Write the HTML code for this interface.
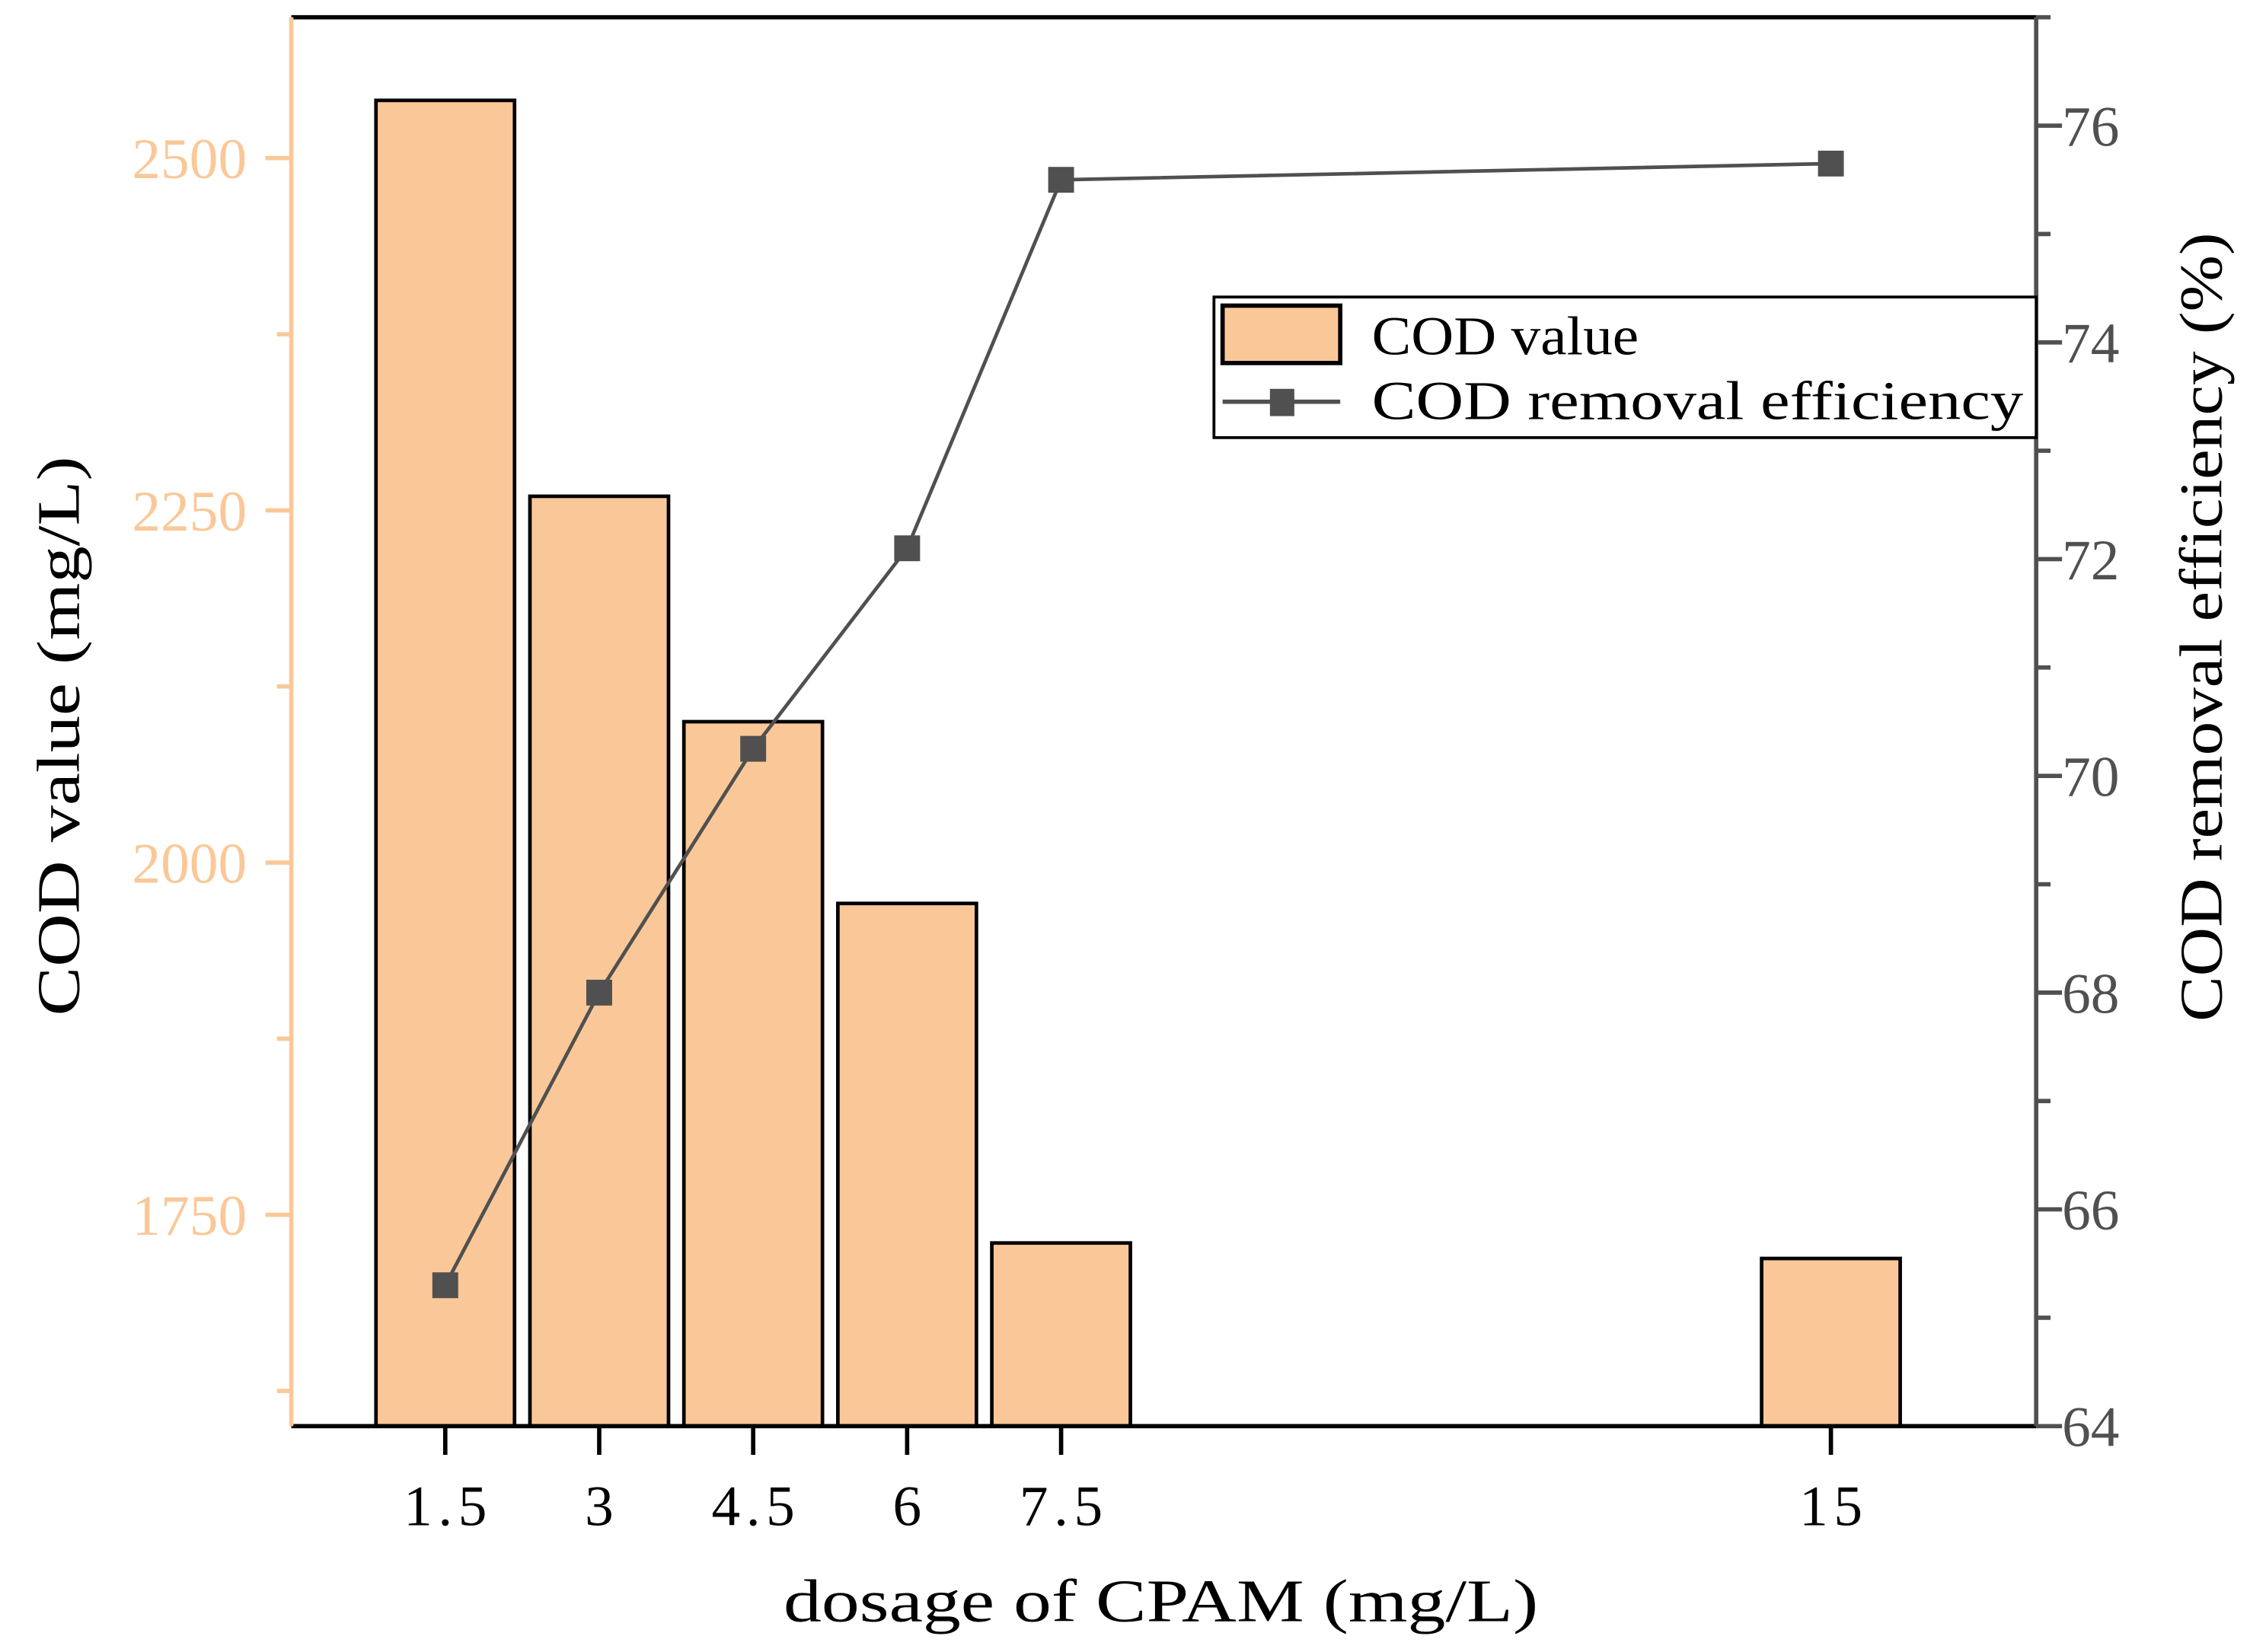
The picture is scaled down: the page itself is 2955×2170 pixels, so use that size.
<!DOCTYPE html>
<html><head><meta charset="utf-8"><style>html,body{margin:0;padding:0;background:#fff}svg{display:block}</style></head>
<body>
<svg id="chart" xmlns="http://www.w3.org/2000/svg" width="2955" height="2170" viewBox="0 0 1568 1151.4" font-family="'Liberation Serif', serif">
<g id="g"></g>
</svg>
<script>
const categories = [1.5, 3, 4.5, 6, 7.5, 15];
const codValues = [2541, 2260, 2100, 1971, 1730, 1719];
const removalEff = [65.3, 68.0, 70.25, 72.1, 75.5, 75.65];
const xTicks = ["1.5", "3", "4.5", "6", "7.5", "15"];
const leftTicks = [1750, 2000, 2250, 2500];
const leftMinor = [1625, 1875, 2125, 2375];
const rightTicks = [64, 66, 68, 70, 72, 74, 76];
const rightMinor = [65, 67, 69, 71, 73, 75, 77];

const PL = 203, PR = 1419, PT = 12, PB = 994;
const xs = v => PL + (v / 17) * (PR - PL);
const yl = v => PB - (v - 1600) / 1000 * (PB - PT);
const yr = v => PB - (v - 64) / 13 * (PB - PT);
const NS = 'http://www.w3.org/2000/svg';
const grp = document.getElementById('g');
function mk(tag, at, txt) {
  const e = document.createElementNS(NS, tag);
  for (const k in at) e.setAttribute(k, at[k]);
  if (txt !== undefined) e.textContent = txt;
  grp.appendChild(e);
  return e;
}
const orange = '#FAC898', gray = '#505050';
const bw = 1.35;
categories.forEach((c, i) => {
  const x0 = xs(c - bw / 2), x1 = xs(c + bw / 2);
  const b = mk('rect', {x: x0, y: yl(codValues[i]), width: x1 - x0, height: PB - yl(codValues[i]), fill: orange, stroke: '#000', 'stroke-width': 2.5});
  
  
});
const pts = categories.map((c, i) => xs(c) + ',' + yr(removalEff[i])).join(' ');
const pl = mk('polyline', {points: pts, fill: 'none', stroke: gray, 'stroke-width': 2.5});


categories.forEach((c, i) => {
  const m = mk('rect', {x: xs(c) - 9, y: yr(removalEff[i]) - 9, width: 18, height: 18, fill: gray});
  
  
});
const topBorder = mk('line', {x1: PL, y1: PT, x2: PR, y2: PT, stroke: '#000', 'stroke-width': 3});


const xa = mk('line', {x1: PL, y1: PB, x2: PR, y2: PB, stroke: '#000', 'stroke-width': 3});


const la = mk('line', {x1: PL, y1: PT, x2: PL, y2: PB, stroke: orange, 'stroke-width': 3});


const ra = mk('line', {x1: PR, y1: PT, x2: PR, y2: PB, stroke: gray, 'stroke-width': 3});


categories.forEach((c, i) => {
  mk('line', {x1: xs(c), y1: PB, x2: xs(c), y2: PB + 20, stroke: '#000', 'stroke-width': 3});
  const t = mk('text', {x: xs(c) + 2, y: 1063, 'text-anchor': 'middle', 'font-size': 40, fill: '#000', 'letter-spacing': 4}, xTicks[i]);
  
  
});
leftTicks.forEach(v => {
  mk('line', {x1: PL, y1: yl(v), x2: PL - 18, y2: yl(v), stroke: orange, 'stroke-width': 3});
  const t = mk('text', {x: 172, y: yl(v) + 14, 'text-anchor': 'end', 'font-size': 40, fill: orange}, String(v));
  
  
});
leftMinor.forEach(v => mk('line', {x1: PL, y1: yl(v), x2: PL - 10, y2: yl(v), stroke: orange, 'stroke-width': 3}));
rightTicks.forEach(v => {
  mk('line', {x1: PR, y1: yr(v), x2: PR + 18, y2: yr(v), stroke: gray, 'stroke-width': 3});
  const t = mk('text', {x: 1437, y: yr(v) + 14, 'font-size': 40, fill: gray}, String(v));
  
  
});
rightMinor.forEach(v => mk('line', {x1: PR, y1: yr(v), x2: PR + 10, y2: yr(v), stroke: gray, 'stroke-width': 3}));
const xt = mk('text', {x: 546, y: 1130, 'font-size': 42, textLength: 526, lengthAdjust: 'spacingAndGlyphs'}, 'dosage of CPAM (mg/L)');


const ylt = mk('text', {x: 0, y: 0, 'font-size': 42, textLength: 390, lengthAdjust: 'spacingAndGlyphs', transform: 'translate(55,708) rotate(-90)'}, 'COD value (mg/L)');


const yrt = mk('text', {x: 0, y: 0, 'font-size': 42, textLength: 550, lengthAdjust: 'spacingAndGlyphs', transform: 'translate(1548,712) rotate(-90)'}, 'COD removal efficiency (%)');


const lg = mk('rect', {x: 846, y: 207, width: 573, height: 98, fill: '#fff', stroke: '#000', 'stroke-width': 2});


const lp = mk('rect', {x: 852, y: 213, width: 82, height: 40, fill: orange, stroke: '#000', 'stroke-width': 3});


const l1 = mk('text', {x: 956, y: 247, 'font-size': 38, textLength: 186, lengthAdjust: 'spacingAndGlyphs'}, 'COD value');


mk('line', {x1: 852, y1: 280, x2: 934, y2: 280, stroke: gray, 'stroke-width': 3});
mk('rect', {x: 885, y: 271, width: 17, height: 19, fill: gray});
const l2 = mk('text', {x: 956, y: 292, 'font-size': 38, textLength: 454, lengthAdjust: 'spacingAndGlyphs'}, 'COD removal efficiency');


</script>
</body></html>
